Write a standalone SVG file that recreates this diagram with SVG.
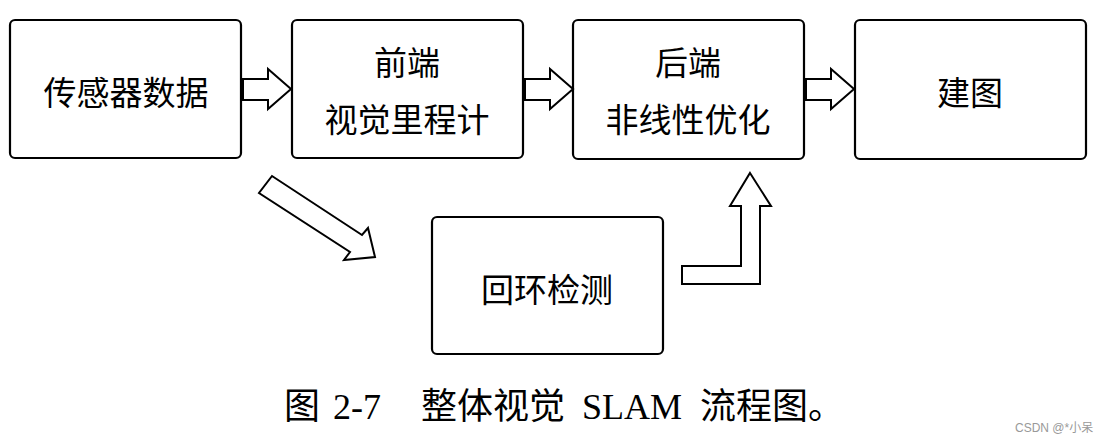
<svg xmlns="http://www.w3.org/2000/svg" width="1112" height="444" viewBox="0 0 1112 444">
<style>
.box{fill:#fff;stroke:#000;stroke-width:2.2}
.arr{fill:#fff;stroke:#000;stroke-width:2;stroke-linejoin:miter}
.lbl{font-family:"Noto Sans CJK SC","Noto Sans",sans-serif;font-size:33px;fill:#000;text-anchor:middle}
.cap{font-family:"Liberation Serif","Noto Sans CJK SC",serif;font-size:36px;fill:#000}
.wm{font-family:"Liberation Sans","Noto Sans CJK SC",sans-serif;font-size:12px;fill:#999}
</style>
<rect width="1112" height="444" fill="#fff"/>
<g id="n1"><rect class="box" x="10" y="20" width="231" height="138" rx="5"/><text class="lbl" x="126" y="105">传感器数据</text></g>
<g id="n2"><rect class="box" x="292" y="20" width="231" height="138" rx="5"/><text class="lbl" x="407" y="75">前端</text><text class="lbl" x="407" y="132">视觉里程计</text></g>
<g id="n3"><rect class="box" x="573" y="20" width="231" height="139" rx="5"/><text class="lbl" x="688" y="75">后端</text><text class="lbl" x="688" y="132">非线性优化</text></g>
<g id="n4"><rect class="box" x="855" y="20" width="231" height="139" rx="5"/><text class="lbl" x="970" y="105">建图</text></g>
<g id="n5"><rect class="box" x="432" y="217" width="231" height="137" rx="5"/><text class="lbl" x="547" y="302">回环检测</text></g>
<g id="connectors">
<polygon class="arr" points="243,79 268,79 268,69 291,89 268,109 268,100 243,100"/>
<polygon class="arr" points="525,79 550,79 550,69 573,89 550,109 550,100 525,100"/>
<polygon class="arr" points="806,79 831,79 831,69 854,89 831,109 831,100 806,100"/>
<polygon class="arr" points="272,176 362,235 368,228 375,257 344,260 350,252 259,193"/>
<polygon class="arr" points="750,173 771,206 760,206 760,284 682,284 682,266 741,266 741,206 730,206"/>
</g>
<g id="caption">
<text class="cap" x="284" y="419">图</text>
<text class="cap" x="333" y="419">2-7</text>
<text class="cap" x="421" y="419">整体视觉</text>
<text class="cap" x="582" y="419">SLAM</text>
<text class="cap" x="700" y="419">流程图。</text>
</g>
<text class="wm" x="1015" y="432">CSDN @*小呆</text>
</svg>
